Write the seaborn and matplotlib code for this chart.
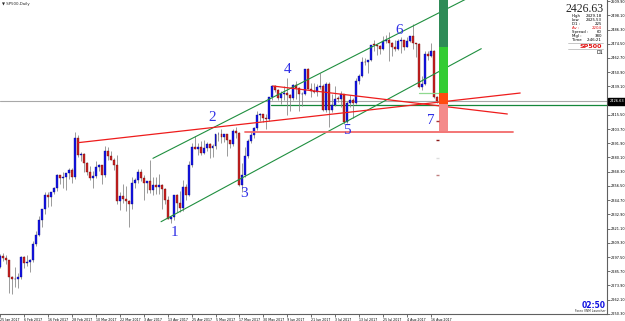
import numpy as np
import pandas as pd
import matplotlib
matplotlib.use("Agg")
import matplotlib.pyplot as plt
import seaborn as sns

# ---------------- data (SP500 daily) ----------------
opens = [2289.0, 2298.4, 2296.7, 2294.7, 2280.9, 2278.9, 2279.6, 2280.9, 2297.4, 2292.6,
         2293.1, 2294.7, 2307.9, 2316.1, 2328.3, 2337.6, 2349.3, 2347.2, 2351.2, 2354.5,
         2365.4, 2362.8, 2363.8, 2367.3, 2369.8, 2363.6, 2396.0, 2381.9, 2383.1, 2375.3,
         2368.4, 2363.0, 2364.9, 2372.6, 2373.5, 2365.5, 2385.3, 2381.4, 2378.3, 2373.5,
         2344.0, 2348.5, 2346.0, 2344.0, 2341.6, 2358.6, 2361.1, 2368.1, 2362.7, 2358.8,
         2360.2, 2353.0, 2357.5, 2355.5, 2357.2, 2353.8, 2344.9, 2329.0, 2330.5, 2349.0,
         2342.2, 2338.2, 2355.8, 2348.7, 2374.2, 2388.6, 2387.5, 2388.8, 2384.2, 2388.3,
         2391.2, 2388.1, 2389.5, 2399.3, 2399.4, 2396.9, 2399.6, 2394.4, 2390.9, 2402.3,
         2400.7, 2357.0, 2365.7, 2381.7, 2394.0, 2398.4, 2404.4, 2415.1, 2415.8, 2412.9,
         2411.8, 2430.1, 2439.1, 2436.1, 2429.3, 2433.1, 2433.8, 2431.8, 2429.4, 2440.4,
         2437.9, 2432.5, 2433.2, 2453.5, 2437.0, 2435.6, 2434.5, 2438.3, 2439.1, 2419.4,
         2440.7, 2419.7, 2423.4, 2429.0, 2428.5, 2432.5, 2409.8, 2425.2, 2427.4, 2425.5,
         2443.3, 2447.8, 2459.3, 2459.1, 2460.6, 2473.8, 2473.5, 2472.5, 2469.9, 2477.1,
         2477.8, 2475.4, 2472.1, 2470.3, 2476.4, 2477.6, 2472.2, 2476.8, 2480.9, 2474.9,
         2474.0, 2438.2, 2441.3, 2465.8, 2464.6, 2468.1, 2430.0]
highs = [2299.6, 2301.0, 2299.0, 2295.0, 2281.5, 2289.1, 2284.0, 2298.3, 2298.0, 2299.4,
         2295.9, 2311.1, 2319.2, 2331.6, 2337.6, 2351.3, 2351.3, 2351.2, 2356.0, 2366.7,
         2365.5, 2368.3, 2367.3, 2371.5, 2371.0, 2401.0, 2398.5, 2385.0, 2384.0, 2376.0,
         2373.1, 2369.1, 2376.9, 2374.4, 2374.0, 2390.0, 2389.0, 2385.7, 2379.5, 2382.0,
         2351.8, 2358.2, 2356.2, 2345.0, 2363.8, 2363.4, 2370.4, 2370.4, 2365.9, 2360.5,
         2378.4, 2364.2, 2363.8, 2366.4, 2358.0, 2354.5, 2348.3, 2331.5, 2349.1, 2349.5,
         2352.6, 2361.4, 2358.0, 2377.0, 2392.5, 2398.2, 2392.1, 2393.7, 2394.5, 2392.9,
         2392.0, 2391.4, 2399.3, 2401.4, 2403.9, 2399.7, 2400.0, 2395.0, 2404.1, 2405.8,
         2401.5, 2375.7, 2389.1, 2395.5, 2400.9, 2405.6, 2418.7, 2416.7, 2416.5, 2416.0,
         2430.1, 2440.2, 2440.0, 2437.0, 2435.3, 2439.3, 2446.2, 2433.2, 2441.5, 2443.8,
         2438.5, 2434.5, 2453.8, 2454.0, 2442.2, 2441.6, 2441.4, 2450.4, 2441.0, 2443.0,
         2442.7, 2432.7, 2439.2, 2431.0, 2434.9, 2433.0, 2426.9, 2432.0, 2429.3, 2445.8,
         2449.3, 2463.5, 2462.8, 2460.9, 2473.8, 2477.6, 2474.0, 2473.1, 2481.2, 2481.7,
         2484.0, 2476.0, 2478.0, 2478.5, 2480.4, 2478.0, 2480.0, 2481.0, 2490.9, 2475.5,
         2475.0, 2448.1, 2468.2, 2468.7, 2474.9, 2469.0, 2431.0]
lows = [2288.0, 2294.1, 2291.6, 2268.0, 2267.2, 2272.4, 2271.7, 2279.0, 2288.1, 2290.2,
        2285.4, 2293.5, 2306.5, 2315.0, 2322.2, 2333.5, 2338.9, 2339.6, 2349.5, 2352.0,
        2358.3, 2355.1, 2352.9, 2361.9, 2359.0, 2362.5, 2380.2, 2376.9, 2368.0, 2365.5,
        2361.0, 2354.5, 2363.0, 2368.5, 2358.2, 2364.0, 2377.8, 2377.6, 2369.7, 2341.9,
        2336.5, 2342.1, 2335.7, 2322.3, 2337.6, 2355.0, 2358.6, 2360.5, 2344.7, 2350.7,
        2350.5, 2348.9, 2349.7, 2350.0, 2337.3, 2341.2, 2328.9, 2326.0, 2328.5, 2334.5,
        2335.0, 2336.0, 2344.5, 2348.0, 2372.0, 2386.8, 2382.4, 2382.4, 2383.0, 2385.8,
        2379.8, 2380.3, 2387.0, 2393.6, 2392.4, 2392.8, 2381.7, 2387.6, 2390.0, 2396.1,
        2356.2, 2351.5, 2364.0, 2380.0, 2392.0, 2396.5, 2403.0, 2410.5, 2409.4, 2403.6,
        2410.0, 2427.7, 2434.3, 2428.1, 2424.8, 2427.4, 2415.7, 2418.5, 2428.0, 2428.3,
        2418.5, 2422.9, 2432.0, 2436.6, 2430.7, 2433.3, 2431.1, 2437.0, 2418.5, 2418.0,
        2405.7, 2418.0, 2422.5, 2426.0, 2422.1, 2407.7, 2408.5, 2422.3, 2412.8, 2424.5,
        2441.4, 2446.7, 2457.2, 2450.3, 2460.0, 2468.4, 2465.1, 2466.3, 2469.0, 2474.9,
        2459.9, 2464.7, 2468.5, 2469.5, 2466.5, 2468.9, 2471.5, 2475.9, 2470.3, 2463.5,
        2437.8, 2436.5, 2440.5, 2461.1, 2463.9, 2429.5, 2425.5]
closes = [2298.4, 2296.7, 2294.7, 2280.9, 2278.9, 2279.6, 2280.9, 2297.4, 2292.6, 2293.1,
          2294.7, 2307.9, 2316.1, 2328.3, 2337.6, 2349.3, 2347.2, 2351.2, 2354.5, 2365.4,
          2362.8, 2363.8, 2367.3, 2369.8, 2363.6, 2396.0, 2381.9, 2383.1, 2375.3, 2368.4,
          2363.0, 2364.9, 2372.6, 2373.5, 2365.5, 2385.3, 2381.4, 2378.3, 2373.5, 2344.0,
          2348.5, 2346.0, 2344.0, 2341.6, 2358.6, 2361.1, 2368.1, 2362.7, 2358.8, 2360.2,
          2353.0, 2357.5, 2355.5, 2357.2, 2353.8, 2344.9, 2329.0, 2330.5, 2349.0, 2342.2,
          2338.2, 2355.8, 2348.7, 2374.2, 2388.6, 2387.5, 2388.8, 2384.2, 2388.3, 2391.2,
          2388.1, 2389.5, 2399.3, 2399.4, 2396.9, 2399.6, 2394.4, 2390.9, 2402.3, 2400.7,
          2357.0, 2365.7, 2381.7, 2394.0, 2398.4, 2404.4, 2415.1, 2415.8, 2412.9, 2411.8,
          2430.1, 2439.1, 2436.1, 2429.3, 2433.1, 2433.8, 2431.8, 2429.4, 2440.4, 2437.9,
          2432.5, 2433.2, 2453.5, 2437.0, 2435.6, 2434.5, 2438.3, 2439.1, 2419.4, 2440.7,
          2419.7, 2423.4, 2429.0, 2428.5, 2432.5, 2409.8, 2425.2, 2427.4, 2425.5, 2443.3,
          2447.8, 2459.3, 2459.1, 2460.6, 2473.8, 2473.5, 2472.5, 2469.9, 2477.1, 2477.8,
          2475.4, 2472.1, 2470.3, 2476.4, 2477.6, 2472.2, 2476.8, 2480.9, 2474.9, 2474.0,
          2438.2, 2441.3, 2465.8, 2464.6, 2468.1, 2430.0, 2426.6]

tick_bars = [0, 8, 16, 24, 32, 40, 48, 56, 64, 72, 80, 88, 96, 104, 112, 120, 128, 136, 144]
tick_labels = ["25 Jan 2017", "6 Feb 2017", "16 Feb 2017", "28 Feb 2017", "10 Mar 2017",
               "22 Mar 2017", "3 Apr 2017", "13 Apr 2017", "25 Apr 2017", "5 May 2017",
               "17 May 2017", "30 May 2017", "9 Jun 2017", "21 Jun 2017", "3 Jul 2017",
               "13 Jul 2017", "25 Jul 2017", "4 Aug 2017", "16 Aug 2017"]
price_ticks = [2250.3, 2262.1, 2273.9, 2285.7, 2297.5, 2309.3, 2321.1, 2332.9, 2344.7,
               2356.5, 2368.3, 2380.1, 2391.9, 2403.7, 2415.5, 2427.3, 2439.1, 2450.9,
               2462.7, 2474.5, 2486.3, 2498.1, 2509.9]
current_price = 2426.63

# trend objects (bar index, price)
red_trend = ([26.1, 173.8], [2392.4, 2433.6])
red_trend2 = ([91.2, 169.5], [2439.4, 2416.2])
red_level = ([82.0, 171.5], [2401.5, 2401.5])
green_level = ([90.5, 203.0], [2423.7, 2423.7])
green_upper = ([51.1, 166.0], [2379.4, 2524.6])
green_lower = ([53.8, 160.8], [2326.8, 2470.4])
lightgreen_level = ([140.0, 146.8], [2434.0, 2434.0])
box_edges = [2401.7, 2424.5, 2434.0, 2472.2, 2511.0]
box_colors = ["#f48a8a", "#ff4a10", "#33cc33", "#2e8b57"]
marks_price = [2410.4, 2394.6, 2379.7, 2365.6]
marks_color = ["#a83232", "#8b1a1a", "#dddddd", "#c08080"]
wave_labels = ["1", "2", "3", "4", "5", "6", "7"]
wave_x = [58.2, 70.8, 81.5, 96.2, 115.8, 133.5, 143.8]
wave_y = [2317.8, 2412.9, 2349.8, 2453.5, 2402.1, 2485.9, 2411.2]

# ---------------- drawing ----------------
sns.set_theme(style="white")
plt.rcParams['font.family'] = ['DejaVu Sans']

W, H = 625, 321
fig = plt.figure(figsize=(W / 100, H / 100), dpi=100)
fig.patch.set_facecolor("white")
ax = fig.add_axes([0, 1 - 314 / H, 607 / W, 314 / H])
ax.set_facecolor("white")

df = pd.DataFrame(dict(bar=np.arange(len(closes)), o=opens, h=highs, l=lows, c=closes))
df["up"] = df.c >= df.o
df["bottom"] = df[["o", "c"]].min(axis=1)
df["height"] = (df.c - df.o).abs().clip(lower=0.6)

# horizontal lines behind candles
ax.axhline(current_price, color="#a8a8a8", lw=0.8, zorder=1)
sns.lineplot(x=green_level[0], y=green_level[1], ax=ax, color="#14873a", lw=0.9, zorder=1.5)

ax.vlines(df.bar, df.l, df.h, color="#8a8a8a", lw=0.6, zorder=2)
up = df[df.up]
dn = df[~df.up]
ax.bar(up.bar, up.height, bottom=up.bottom, width=0.66, color="#1515e8",
       edgecolor="#00007a", lw=0.25, zorder=3)
ax.bar(dn.bar, dn.height, bottom=dn.bottom, width=0.66, color="#c82424",
       edgecolor="#6e0000", lw=0.25, zorder=3)

# trend lines
for (xs, ys), col, lw in [(green_upper, "#1f8f3f", 0.8), (green_lower, "#1f8f3f", 0.8),
                          (red_trend, "#ee1c1c", 0.9), (red_trend2, "#ee1c1c", 0.9),
                          (red_level, "#f26a6a", 1.3), (lightgreen_level, "#8fd98f", 0.9)]:
    sns.lineplot(x=xs, y=ys, ax=ax, color=col, lw=lw, zorder=4, sort=False, estimator=None)

# coloured box
for lo, hi, col in zip(box_edges[:-1], box_edges[1:], box_colors):
    ax.bar([148.3], [hi - lo], bottom=[lo], width=3.0, color=col, lw=0, zorder=5)
ax.hlines(marks_price, 145.7, 146.7, colors=marks_color, lw=1.0, zorder=5)

for t, x, y in zip(wave_labels, wave_x, wave_y):
    ax.text(x, y, t, color="#2f2fe6", fontsize=11, family="Liberation Serif",
            ha="center", va="center", zorder=6)

ax.set_xlim(0.5, 202.8)
ax.set_ylim(2250.2, 2510.8)
ax.set_xlabel("")
ax.set_ylabel("")
ax.set_xticks(tick_bars)
ax.set_xticklabels(tick_labels, fontsize=2.3, ha="left")
ax.yaxis.tick_right()
ax.set_yticks(price_ticks)
# the label hidden behind the current-price tag is left blank, as on the terminal
ax.set_yticklabels(["" if abs(v - current_price) < 5 else f"{v:.2f}" for v in price_ticks],
                   fontsize=2.5)
ax.tick_params(axis="x", direction="out", length=2, width=0.4, pad=0.8, colors="black",
               bottom=True)
ax.tick_params(axis="y", direction="out", length=2, width=0.4, pad=0.8, colors="black",
               right=True, left=False)
for s in ["top", "left"]:
    ax.spines[s].set_visible(False)
for s in ["right", "bottom"]:
    ax.spines[s].set_color("#606060")
    ax.spines[s].set_linewidth(0.8)

# current price tag on the price scale
ax.text(1.004, current_price, f"{current_price:.2f}", transform=ax.get_yaxis_transform(),
        fontsize=2.6, color="white", ha="left", va="center", zorder=7,
        bbox=dict(boxstyle="square,pad=0.3", fc="black", ec="black"), clip_on=False)


def px(x, y):
    return x / W, 1 - y / H


fig.text(*px(2, 3.5), "\u25bc SP500,Daily", fontsize=2.8, ha="left", va="center")
fig.text(*px(604, 9), f"{current_price:.2f}", fontsize=8.5, family="Liberation Serif",
         ha="right", va="center")
info_l = ["High", "Low", "D1 :", "Av :", "Spread :", "Mgl :", "Time"]
info_v = ["2429.18", "2425.53", "225", "2204", "60", "380", "2:46:21"]
info_y = [16, 20, 24.3, 28.3, 32.3, 36.3, 40]
for lab, val, yy in zip(info_l, info_v, info_y):
    col = "#e01010" if lab.startswith("Av") else "black"
    fig.text(*px(572, yy), lab, fontsize=2.8, ha="left", va="center", color=col)
    fig.text(*px(602, yy), val, fontsize=2.8, ha="right", va="center", color=col)
for yy in [42.7, 49.3]:
    fig.add_artist(plt.Line2D([568 / W, 603 / W], [1 - yy / H, 1 - yy / H],
                              color="#b0b0b0", lw=0.5))
fig.text(*px(591, 46), "SP500", fontsize=4.6, ha="center", va="center", color="#e01010",
         weight="bold")
fig.text(*px(600, 52.3), "D1", fontsize=3.4, ha="center", va="center", color="black")
fig.text(*px(606, 306), "02:50", fontsize=5.5, ha="right", va="center", color="#1010e0",
         weight="bold")
fig.text(*px(606, 311.5), "Forex VNM Launcher", fontsize=2.2, ha="right", va="center")

fig.savefig("out.png", dpi=100, facecolor="white")
